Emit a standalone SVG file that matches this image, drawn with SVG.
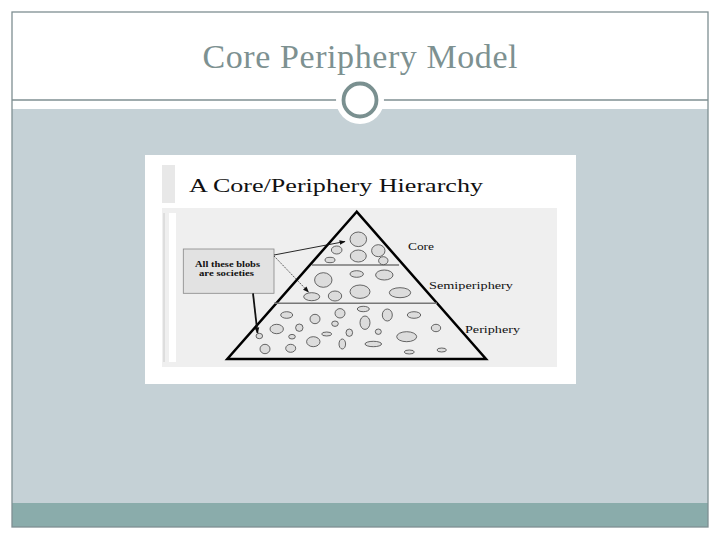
<svg xmlns="http://www.w3.org/2000/svg" width="720" height="540" viewBox="0 0 720 540">
<defs>
<style>
.frame{fill:none;stroke:#7f8f92;stroke-width:1.3}
.title{font-family:"Liberation Serif","Times New Roman",serif;fill:#7d9191}
.pic{font-family:"Liberation Serif","Times New Roman",serif;fill:#111}
.blob{fill:#dcdcdc;stroke:#444;stroke-width:0.8}
.tri{fill:none;stroke:#000;stroke-width:2.5;stroke-linejoin:miter}
.tier{stroke:#777;stroke-width:1.4}
.arr{fill:none;stroke:#111}
</style>
<marker id="ah" viewBox="0 0 10 10" refX="9" refY="5" markerWidth="6" markerHeight="6" orient="auto" markerUnits="userSpaceOnUse">
<path d="M0,1 L10,5 L0,9 z" fill="#111"/>
</marker>
</defs>
<rect width="720" height="540" fill="#ffffff"/>
<g id="slide">
<rect x="12" y="109" width="696" height="394" fill="#c5d1d6"/>
<rect x="12" y="503" width="696" height="24" fill="#8aacab"/>
<rect x="12" y="12" width="696" height="515" class="frame"/>
<line x1="12" y1="100" x2="708" y2="100" stroke="#7f8f92" stroke-width="1.3"/>
<circle cx="360" cy="100" r="24" fill="#ffffff"/>
<circle cx="360" cy="100" r="16.5" fill="#ffffff" stroke="#7a9090" stroke-width="3.8"/>
<text class="title" x="360" y="68" font-size="34" text-anchor="middle" textLength="315">Core Periphery Model</text>
</g>
<g id="picture">
<rect x="145" y="155" width="431" height="229" fill="#ffffff"/>
<rect x="162" y="165" width="13" height="38" fill="#e8e8e8"/>
<rect x="162" y="208" width="395" height="159" fill="#efefef"/>
<rect x="169" y="213" width="7" height="149" fill="#ffffff"/>
<line x1="164" y1="213" x2="164" y2="362" stroke="#cccccc" stroke-width="1"/>
<text class="pic" x="189" y="192" font-size="19" textLength="294" lengthAdjust="spacingAndGlyphs">A Core/Periphery Hierarchy</text>
</g>
<g id="pyramid">
<polygon class="tri" points="356.7,211.7 227.3,359 486,359"/>
<line class="tier" x1="312" y1="265" x2="399" y2="265"/>
<line class="tier" x1="274" y1="303.3" x2="437" y2="303.3"/>
</g>
<g id="blobs">
<ellipse class="blob" cx="358.3" cy="239.3" rx="8.3" ry="7.3"/>
<ellipse class="blob" cx="336.7" cy="250" rx="5.3" ry="4"/>
<ellipse class="blob" cx="358.3" cy="256" rx="8" ry="6"/>
<ellipse class="blob" cx="378.3" cy="250.7" rx="6.7" ry="6"/>
<ellipse class="blob" cx="330" cy="260" rx="5" ry="2.7"/>
<ellipse class="blob" cx="383.3" cy="260.7" rx="4.7" ry="4"/>
<ellipse class="blob" cx="323.3" cy="280" rx="8.7" ry="7.3"/>
<ellipse class="blob" cx="356.7" cy="274" rx="6.7" ry="3.3"/>
<ellipse class="blob" cx="384.3" cy="275" rx="8.7" ry="5"/>
<ellipse class="blob" cx="311.7" cy="296.7" rx="8" ry="4"/>
<ellipse class="blob" cx="335" cy="296" rx="6.7" ry="5"/>
<ellipse class="blob" cx="360" cy="291.7" rx="10" ry="6.7"/>
<ellipse class="blob" cx="400" cy="292.7" rx="10.7" ry="5"/>
<ellipse class="blob" cx="286.7" cy="315" rx="6" ry="3.3"/>
<ellipse class="blob" cx="315" cy="319" rx="5" ry="4.7"/>
<ellipse class="blob" cx="340" cy="313.3" rx="5" ry="4.7"/>
<ellipse class="blob" cx="363.3" cy="309" rx="6" ry="2.7"/>
<ellipse class="blob" cx="365" cy="322.7" rx="5" ry="6.7"/>
<ellipse class="blob" cx="387.3" cy="315" rx="5" ry="6"/>
<ellipse class="blob" cx="414" cy="315" rx="6.7" ry="3.3"/>
<ellipse class="blob" cx="276.7" cy="329" rx="6.7" ry="4.7"/>
<ellipse class="blob" cx="299.3" cy="327.7" rx="3.7" ry="3.7"/>
<ellipse class="blob" cx="335" cy="323.7" rx="3.3" ry="2.7"/>
<ellipse class="blob" cx="326.7" cy="334" rx="5" ry="2"/>
<ellipse class="blob" cx="349.3" cy="332.7" rx="3.3" ry="3.7"/>
<ellipse class="blob" cx="378.3" cy="331.7" rx="3" ry="2.7"/>
<ellipse class="blob" cx="436" cy="328" rx="4.7" ry="3.7"/>
<ellipse class="blob" cx="259.3" cy="336" rx="3.3" ry="2.7"/>
<ellipse class="blob" cx="292" cy="336.7" rx="3.3" ry="2.3"/>
<ellipse class="blob" cx="313.3" cy="341.7" rx="6.7" ry="5"/>
<ellipse class="blob" cx="342.3" cy="344" rx="3.3" ry="5"/>
<ellipse class="blob" cx="373.3" cy="344" rx="8.3" ry="2.7"/>
<ellipse class="blob" cx="406.7" cy="336.7" rx="10" ry="5"/>
<ellipse class="blob" cx="265" cy="349" rx="5" ry="4.7"/>
<ellipse class="blob" cx="290.7" cy="348.3" rx="5" ry="4"/>
<ellipse class="blob" cx="409.3" cy="352" rx="5" ry="2"/>
<ellipse class="blob" cx="441.7" cy="350" rx="4.7" ry="2"/>
</g>
<g id="labels">
<text class="pic" x="408" y="250" font-size="11" textLength="26" lengthAdjust="spacingAndGlyphs">Core</text>
<text class="pic" x="429" y="289" font-size="11" textLength="84" lengthAdjust="spacingAndGlyphs">Semiperiphery</text>
<text class="pic" x="465" y="333" font-size="11" textLength="55" lengthAdjust="spacingAndGlyphs">Periphery</text>
</g>
<g id="note-box">
<rect x="183.3" y="249" width="90.7" height="44.3" fill="#e2e2e2" stroke="#888" stroke-width="0.8"/>
<text class="pic" x="195" y="266.5" font-size="8" font-weight="bold" fill="#333" textLength="65" lengthAdjust="spacingAndGlyphs">All these blobs</text>
<text class="pic" x="199" y="275.5" font-size="8" font-weight="bold" fill="#333" textLength="55" lengthAdjust="spacingAndGlyphs">are societies</text>
</g>
<g id="connectors">
<path class="arr" d="M274,255 L345,241.5" stroke-width="0.9" marker-end="url(#ah)"/>
<path class="arr" d="M274,256 L308.5,292" stroke-width="0.7" stroke-dasharray="1.5,1" marker-end="url(#ah)"/>
<path class="arr" d="M253,293.3 L257.5,333" stroke-width="1.8" marker-end="url(#ah)"/>
</g>
</svg>
